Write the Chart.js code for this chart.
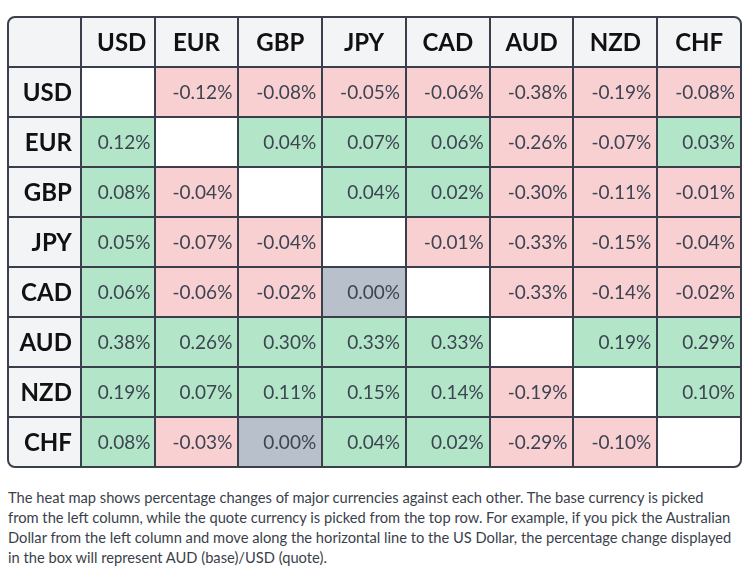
<!DOCTYPE html>
<html>
<head>
<meta charset="utf-8">
<script src="https://cdn.jsdelivr.net/npm/chart.js@4.4.1/dist/chart.umd.min.js"></script>
<style>
  html, body { margin: 0; padding: 0; background: #fff; }
  #wrap { position: relative; width: 749px; height: 475px; }
  #note { position: absolute; left: 8px; top: 487px; margin: 0; font: 14.7px/20px Lato, sans-serif; color: #3a3f4b; white-space: nowrap; }
</style>
</head>
<body>
<div id="wrap"><canvas id="heatmap"></canvas></div>
<p id="note">The heat map shows percentage changes of major currencies against each other. The base currency is picked<br>from the left column, while the quote currency is picked from the top row. For example, if you pick the Australian<br>Dollar from the left column and move along the horizontal line to the US Dollar, the percentage change displayed<br>in the box will represent AUD (base)/USD (quote).</p>
<script>
document.addEventListener('DOMContentLoaded', function () {

    const currencies = ['USD', 'EUR', 'GBP', 'JPY', 'CAD', 'AUD', 'NZD', 'CHF'];

    // base currency (row) / quote currency (column), % change
    const usd = [null, -0.12, -0.08, -0.05, -0.06, -0.38, -0.19, -0.08];
    const eur = [0.12, null, 0.04, 0.07, 0.06, -0.26, -0.07, 0.03];
    const gbp = [0.08, -0.04, null, 0.04, 0.02, -0.30, -0.11, -0.01];
    const jpy = [0.05, -0.07, -0.04, null, -0.01, -0.33, -0.15, -0.04];
    const cad = [0.06, -0.06, -0.02, 0.00, null, -0.33, -0.14, -0.02];
    const aud = [0.38, 0.26, 0.30, 0.33, 0.33, null, 0.19, 0.29];
    const nzd = [0.19, 0.07, 0.11, 0.15, 0.14, -0.19, null, 0.10];
    const chf = [0.08, -0.03, 0.00, 0.04, 0.02, -0.29, -0.10, null];
    const rows = [usd, eur, gbp, jpy, cad, aud, nzd, chf];

    // layout: column widths in x-scale units (USD column is a bit narrower)
    const labelColWidth = 0.87;
    const colWidths = [0.88, 1, 1, 1, 1, 1, 1, 1];
    const colEdges = [0];
    colWidths.forEach((w, i) => colEdges.push(colEdges[i] + w));

    const HEADER = ' ';
    const yLabels = [HEADER].concat(currencies);

    const lineColor = '#3a3f4b';

    function cellColor(v) {
        if (v === null) return '#ffffff';
        if (v > 0) return '#b3e6c8';
        if (v < 0) return '#f9d0d2';
        return '#b8c0cc';
    }

    const datasets = currencies.map((quote, c) => ({
        label: quote,
        data: rows.map((row, r) => ({ x: [colEdges[c], colEdges[c + 1]], y: currencies[r], v: row[c] })),
        backgroundColor: rows.map(row => cellColor(row[c])),
        borderWidth: 0,
        barPercentage: 1,
        categoryPercentage: 1,
        grouped: false
    }));

    //todo: fondo, líneas y textos de la tabla
    const tablePlugin = {
        id: 'table',
        beforeDatasetsDraw(chart) {
            const { ctx, chartArea: a } = chart;
            ctx.save();
            ctx.fillStyle = '#f3f4f6';
            ctx.beginPath();
            ctx.roundRect(a.left, a.top, a.width, a.height, 7);
            ctx.fill();
            ctx.restore();
        },
        afterDatasetsDraw(chart) {
            const { ctx, chartArea: a, scales: { x, y } } = chart;
            const rowH = y.getPixelForValue(1) - y.getPixelForValue(0);
            ctx.save();

            // grid lines
            ctx.strokeStyle = lineColor;
            ctx.lineWidth = 2;
            ctx.beginPath();
            colEdges.slice(0, -1).forEach(e => {
                const px = Math.round(x.getPixelForValue(e));
                ctx.moveTo(px, a.top);
                ctx.lineTo(px, a.bottom);
            });
            for (let i = 1; i < yLabels.length; i++) {
                const py = Math.round(y.getPixelForValue(i) - rowH / 2);
                ctx.moveTo(a.left, py);
                ctx.lineTo(a.right, py);
            }
            ctx.stroke();
            ctx.beginPath();
            ctx.roundRect(a.left, a.top, a.width, a.height, 7);
            ctx.stroke();

            // headers
            ctx.fillStyle = '#111111';
            ctx.font = 'bold 24px Lato';
            ctx.textBaseline = 'middle';
            ctx.textAlign = 'center';
            const hy = y.getPixelForValue(0) + 1;
            currencies.forEach((cur, c) => {
                const cx = (x.getPixelForValue(colEdges[c]) + x.getPixelForValue(colEdges[c + 1])) / 2;
                ctx.fillText(cur, cx + (c === 0 ? 4 : 0), hy);
            });
            ctx.textAlign = 'right';
            currencies.forEach((cur, r) => {
                ctx.fillText(cur, x.getPixelForValue(0) - 9, y.getPixelForValue(r + 1) + 1);
            });

            // values
            ctx.fillStyle = '#3d4452';
            ctx.font = '19px Lato';
            datasets.forEach((ds, c) => {
                const meta = chart.getDatasetMeta(c);
                meta.data.forEach((bar, r) => {
                    const v = ds.data[r].v;
                    if (v === null) return;
                    const pad = c === 0 ? 4 : 6;
                    ctx.fillText(v.toFixed(2) + '%', bar.x - pad, bar.y + 1);
                });
            });
            ctx.restore();
        }
    };

    const ctx = document.getElementById('heatmap').getContext('2d');
    new Chart(ctx, {
        type: 'bar',
        data: {
            labels: yLabels,
            datasets: datasets
        },
        options: {
            indexAxis: 'y',
            responsive: true,
            maintainAspectRatio: false,
            animation: false,
            layout: { padding: { left: 8, right: 8, top: 17, bottom: 8 } },
            scales: {
                x: { type: 'linear', min: -labelColWidth, max: colEdges[colEdges.length - 1], display: false },
                y: { type: 'category', labels: yLabels, offset: true, display: false }
            },
            plugins: {
                legend: { display: false },
                tooltip: { enabled: false }
            }
        },
        plugins: [tablePlugin]
    });

});
</script>
</body>
</html>
